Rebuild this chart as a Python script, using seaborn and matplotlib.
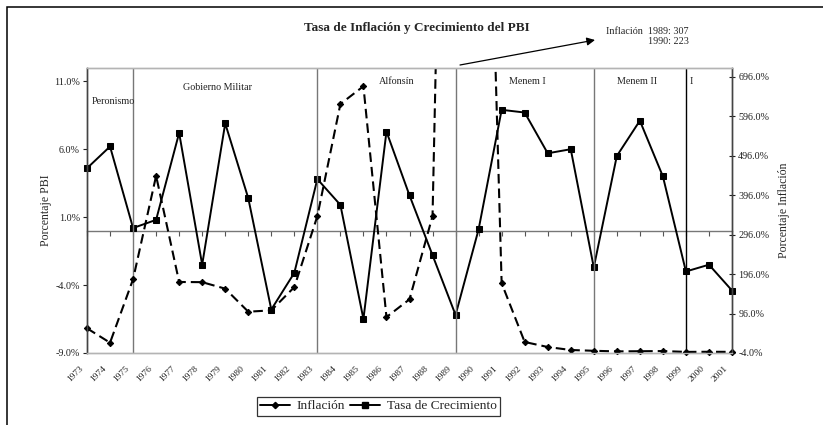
import matplotlib
matplotlib.use('Agg')
import matplotlib.pyplot as plt
import seaborn as sns
from matplotlib.lines import Line2D
from matplotlib.patches import Rectangle
from matplotlib.ticker import FuncFormatter
from matplotlib.transforms import ScaledTranslation

sns.set_style('white')
plt.rcParams['font.family'] = ['Liberation Serif', 'DejaVu Serif']

# data
years = [1973, 1974, 1975, 1976, 1977, 1978, 1979, 1980, 1981, 1982,
         1983, 1984, 1985, 1986, 1987, 1988, 1989, 1990, 1991, 1992,
         1993, 1994, 1995, 1996, 1997, 1998, 1999, 2000, 2001]
growth = [4.6, 6.2, 0.2, 0.8, 7.2, -2.5, 7.9, 2.4, -5.8, -3.1,
          3.8, 1.9, -6.5, 7.3, 2.6, -1.8, -6.2, 0.1, 8.9, 8.7,
          5.7, 6.0, -2.7, 5.5, 8.1, 4.0, -3.0, -2.5, -4.4]
inflation = [58.6, 22.1, 182.9, 444.9, 176.0, 175.5, 159.0, 100.7, 104.0, 163.0,
             343.0, 627.0, 672.0, 87.0, 132.0, 343.0, 3079.0, 2231.0, 172.8, 23.9,
             11.2, 3.6, 1.6, 0.1, 0.5, 0.9, -1.2, -0.9, -1.1]
era_years = [1975, 1983, 1989, 1995, 1999]
era_names = ['Peronismo', 'Gobierno Militar', 'Alfonsín', 'Menem I', 'Menem II', 'I']
era_label_x = [1973.22, 1978.65, 1986.45, 1992.1, 1996.87, 1999.15]
era_label_ha = ['left', 'center', 'center', 'center', 'center', 'left']
era_label_y = [0.88, 0.932, 0.95, 0.95, 0.95, 0.95]
left_ticks = [-9, -4, 1, 6, 11]
right_ticks = [-4, 96, 196, 296, 396, 496, 596, 696]

fig = plt.figure(figsize=(8.23, 4.25), dpi=100)
ax = fig.add_axes([87 / 823, 72 / 425, 645 / 823, 285.3 / 425])
ax2 = ax.twinx()

# growth, left axis
sns.lineplot(x=years, y=growth, ax=ax, color='black', lw=1.4, marker='s',
             markersize=5, markeredgecolor='black', legend=False)
ax.lines[-1].set_clip_on(False)

# inflation, right axis
sns.lineplot(x=years, y=inflation, ax=ax2, color='black', lw=1.5, marker='D',
             markersize=3.2, markeredgecolor='black', legend=False)
infl_line = ax2.lines[-1]
infl_line.set_linestyle((0, (4.6, 2.4)))
clip = Rectangle((-0.03, -0.05), 1.06, 1.05, transform=ax2.transAxes,
                 fill=False, visible=False)
ax2.add_patch(clip)
infl_line.set_clip_path(clip)

ax.set_xlim(1973, 2001)
ax.set_ylim(-9, 12)
ax2.set_ylim(-4, 719)

ax.set_xticks(years)
ax.set_xticklabels([str(y) for y in years], rotation=45, ha='right',
                   rotation_mode='anchor', fontsize=6.8, color='#222222')
ax.tick_params(axis='x', length=0, pad=7)
shift = ScaledTranslation(-8 / 100, -2 / 100, fig.dpi_scale_trans)
for lab in ax.get_xticklabels():
    lab.set_transform(lab.get_transform() + shift)

ax.set_yticks(left_ticks)
ax.yaxis.set_major_formatter(FuncFormatter(lambda v, p: f'{v:.1f}%'))
ax.tick_params(axis='y', direction='out', length=3, width=0.8, labelsize=7.3,
               colors='#222222', left=True, pad=2)
ax2.set_yticks(right_ticks)
ax2.yaxis.set_major_formatter(FuncFormatter(lambda v, p: f'{v:.1f}%'))
ax2.tick_params(axis='y', direction='inout', length=5, width=0.8, labelsize=7.3,
                colors='#222222', right=True, pad=2)

for a in (ax, ax2):
    for s in a.spines.values():
        s.set_linewidth(1.0)
    a.spines['top'].set_color('#b4b4b4')
    a.spines['bottom'].set_color('#b4b4b4')
    a.spines['left'].set_color('#444444')
    a.spines['right'].set_color('#444444')
    a.grid(False)

# category axis crossing at zero
zero_pos = (0 - ax.get_ylim()[0]) / (ax.get_ylim()[1] - ax.get_ylim()[0])
sec = ax.secondary_xaxis(zero_pos)
sec.set_xticks(years)
sec.tick_params(axis='x', direction='out', length=3.5, width=0.8,
                color='#555555', labelbottom=False)
sec.spines['bottom'].set_color('#777777')
sec.spines['bottom'].set_linewidth(1.0)

# government periods
for i, yr in enumerate(era_years):
    ax.axvline(yr, color='black' if i == len(era_years) - 1 else '#777777', lw=1.0)
for name, x, y, ha in zip(era_names, era_label_x, era_label_y, era_label_ha):
    ax.text(x, y, name, transform=ax.get_xaxis_transform(), ha=ha,
            va='center', fontsize=7.3, color='#222222')

ax.set_ylabel('Porcentaje PBI', fontsize=8.5, labelpad=1.5)
ax2.set_ylabel('Porcentaje Inflación', fontsize=8.5, labelpad=6.5)

fig.text(417 / 823, 1 - 28 / 425, 'Tasa de Inflación y Crecimiento del PBI',
         ha='center', va='center', fontsize=9.5, fontweight='bold')

# off-scale note
ax.annotate('', xy=(595 / 823, 1 - 40 / 425), xytext=(460 / 823, 1 - 65 / 425),
            xycoords='figure fraction', textcoords='figure fraction',
            arrowprops=dict(arrowstyle='-|>', color='black', lw=0.9,
                            mutation_scale=12, shrinkA=0, shrinkB=0))
fig.text(689 / 823, 1 - 31.5 / 425, 'Inflación  1989: 307', ha='right', va='center',
         fontsize=7.3)
fig.text(689 / 823, 1 - 42 / 425, '1990: 223', ha='right', va='center', fontsize=7.3)

handles = [Line2D([], [], color='black', lw=1.4, marker='D', markersize=3.2),
           Line2D([], [], color='black', lw=1.4, marker='s', markersize=4.5)]
leg = fig.legend(handles, ['Inflación', 'Tasa de Crecimiento'], loc='center',
                 bbox_to_anchor=(378.5 / 823, 1 - 406 / 425), ncol=2, fontsize=9.6,
                 frameon=True, fancybox=False, handlelength=2.25, handletextpad=0.5,
                 columnspacing=0.37, borderpad=0.25, borderaxespad=0)
leg.get_frame().set_edgecolor('black')
leg.get_frame().set_linewidth(0.9)

fig.patches.append(Rectangle((7 / 823, -0.2), 1.2, 1.2 - 7 / 425,
                             transform=fig.transFigure, fill=False,
                             edgecolor='black', lw=1.1))

fig.savefig('out.png', dpi=100)
